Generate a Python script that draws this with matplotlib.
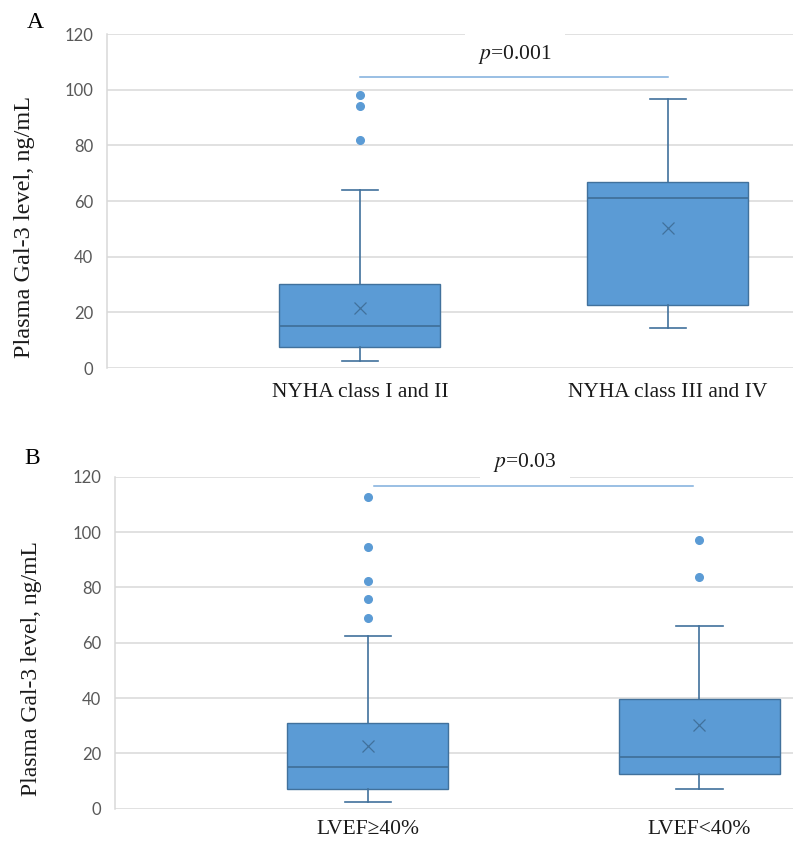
import matplotlib
matplotlib.use('Agg')
import matplotlib.pyplot as plt

# Panel A: NYHA class
nyha_labels = ['NYHA class I and II', 'NYHA class III and IV']
nyha_whislo = [2.4, 14.5]
nyha_q1 = [7.6, 22.7]
nyha_med = [15.1, 61.1]
nyha_q3 = [30.2, 66.8]
nyha_whishi = [64.0, 96.6]
nyha_mean = [21.4, 50.2]
nyha_fliers = [[98.2, 94.2, 82.0], []]
nyha_p = 'p=0.001'

# Panel B: LVEF
lvef_labels = ['LVEF\u226540%', 'LVEF<40%']
lvef_whislo = [2.4, 7.0]
lvef_q1 = [7.0, 12.4]
lvef_med = [15.2, 18.7]
lvef_q3 = [31.0, 39.8]
lvef_whishi = [62.4, 65.9]
lvef_mean = [22.7, 30.2]
lvef_fliers = [[112.5, 94.5, 82.2, 75.8, 68.8], [97.0, 83.6]]
lvef_p = 'p=0.03'

yticks = [0, 20, 40, 60, 80, 100, 120]

FILL = '#5B9BD5'
EDGE = '#41719C'
GRID = '#D9D9D9'
SERIF = 'Liberation Serif'

plt.rcParams['mathtext.fontset'] = 'stix'


def make_stats(labels, lo, q1, med, q3, hi, mean, fliers):
    stats = []
    for i in range(len(labels)):
        stats.append({'label': labels[i], 'whislo': lo[i], 'q1': q1[i], 'med': med[i],
                      'q3': q3[i], 'whishi': hi[i], 'mean': mean[i], 'fliers': fliers[i]})
    return stats


def draw_panel(ax, stats, width, capw, xlim, p_text, p_y, p_x, line_y, line_x, xpad):
    ax.bxp(stats, positions=[1, 2], widths=width, capwidths=capw, showmeans=True,
           patch_artist=True, showfliers=True,
           boxprops=dict(facecolor=FILL, edgecolor=EDGE, linewidth=1.0),
           whiskerprops=dict(color=EDGE, linewidth=1.2),
           capprops=dict(color=EDGE, linewidth=1.2),
           medianprops=dict(color=EDGE, linewidth=1.3),
           meanprops=dict(marker='x', markeredgecolor=EDGE, markersize=9, markeredgewidth=0.9),
           flierprops=dict(marker='o', markerfacecolor=FILL, markeredgecolor=FILL, markersize=5.5))
    ax.set_xlim(*xlim)
    ax.set_ylim(0, 120)
    ax.set_yticks(yticks)
    ax.set_axisbelow(True)
    ax.grid(axis='y', color=GRID, linewidth=1.1)
    for s in ['top', 'right', 'bottom']:
        ax.spines[s].set_visible(False)
    ax.spines['left'].set_color(GRID)
    ax.spines['left'].set_linewidth(1.1)
    ax.tick_params(length=0)
    ax.tick_params(axis='y', labelsize=12, labelcolor='#595959', pad=10)
    ax.tick_params(axis='x', labelsize=15.5, labelcolor='#1a1a1a', pad=xpad)
    for t in ax.get_yticklabels():
        t.set_fontfamily('Lato')
    for t in ax.get_xticklabels():
        t.set_fontfamily(SERIF)
    ax.plot(line_x, [line_y, line_y], color='#7EAEDD', linewidth=1.1, zorder=4, clip_on=False)
    ptxt = r'$\mathit{p}$' + p_text[1:]
    ax.text(p_x, p_y, ptxt, ha='center', va='center', fontsize=15.5, family=SERIF,
            color='#1a1a1a', zorder=3, clip_on=False,
            bbox=dict(boxstyle='square,pad=0.6', facecolor='white', edgecolor='none'))


fig = plt.figure(figsize=(7.93, 8.41), dpi=100)

axA = fig.add_axes([0.135, 0.5624, 0.865, 0.3971])
draw_panel(axA, make_stats(nyha_labels, nyha_whislo, nyha_q1, nyha_med, nyha_q3,
                           nyha_whishi, nyha_mean, nyha_fliers),
           0.523, 0.117, (0.179, 2.406), nyha_p, 112.5, 1.503, 104.6, [1.0, 2.0], 11)
axA.set_ylabel('Plasma Gal-3 level, ng/mL', fontsize=17.5, family=SERIF, color='#1a1a1a')
axA.yaxis.set_label_coords(-0.105, 0.423)

axB = fig.add_axes([0.145, 0.0384, 0.855, 0.3948])
draw_panel(axB, make_stats(lvef_labels, lvef_whislo, lvef_q1, lvef_med, lvef_q3,
                           lvef_whishi, lvef_mean, lvef_fliers),
           0.485, 0.14, (0.238, 2.282), lvef_p, 125.0, 1.474, 116.7, [1.02, 1.98], 8)
axB.set_ylabel('Plasma Gal-3 level, ng/mL', fontsize=17, family=SERIF, color='#1a1a1a')
axB.yaxis.set_label_coords(-0.108, 0.423)

fig.text(0.044, 0.9727, 'A', fontsize=17, family=SERIF, ha='center', va='center')
fig.text(0.040, 0.4554, 'B', fontsize=17, family=SERIF, ha='center', va='center')

fig.savefig('out.png', dpi=100)
